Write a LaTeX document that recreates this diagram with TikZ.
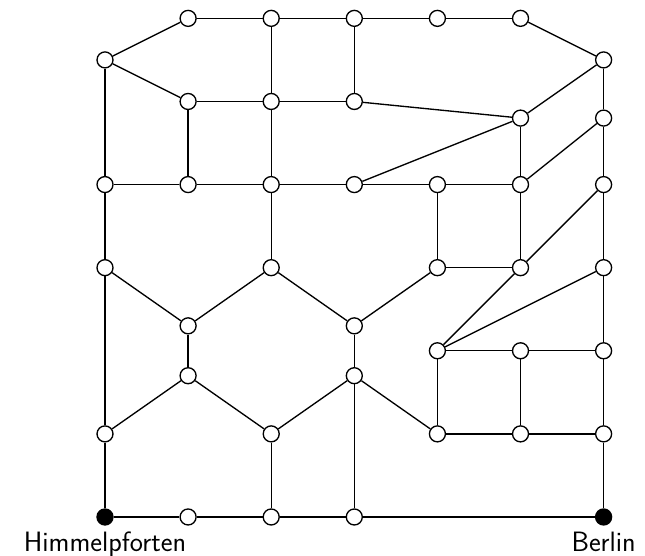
\documentclass[tikz,border=0pt]{standalone}
\begin{document}
\begin{tikzpicture}[x=62.325pt,y=62.325pt,
  v/.style={circle,draw,fill=white,line width=1pt,minimum size=12pt,inner sep=0pt},
  term/.style={v,fill=black},
  edge/.style={line width=1pt},
  lbl/.style={font=\sffamily\fontsize{21}{25}\selectfont,inner sep=0pt,below=4.5pt}]
\useasboundingbox (-1.2635,-0.469) rectangle (6.498,6.221);
% row 6
\node[v] (a16) at (1,6) {};
\node[v] (a26) at (2,6) {};
\node[v] (a36) at (3,6) {};
\node[v] (a46) at (4,6) {};
\node[v] (a56) at (5,6) {};
% row 5.5
\node[v] (a0h) at (0,5.5) {};
\node[v] (a6h) at (6,5.5) {};
% row 5
\node[v] (a15) at (1,5) {};
\node[v] (a25) at (2,5) {};
\node[v] (a35) at (3,5) {};
% row 4.8
\node[v] (a5e) at (5,4.8) {};
\node[v] (a6e) at (6,4.8) {};
% row 4
\node[v] (a04) at (0,4) {};
\node[v] (a14) at (1,4) {};
\node[v] (a24) at (2,4) {};
\node[v] (a34) at (3,4) {};
\node[v] (a44) at (4,4) {};
\node[v] (a54) at (5,4) {};
\node[v] (a64) at (6,4) {};
% row 3
\node[v] (a03) at (0,3) {};
\node[v] (a23) at (2,3) {};
\node[v] (a43) at (4,3) {};
\node[v] (a53) at (5,3) {};
\node[v] (a63) at (6,3) {};
% row 2.3
\node[v] (a1t) at (1,2.3) {};
\node[v] (a3t) at (3,2.3) {};
% row 2
\node[v] (a42) at (4,2) {};
\node[v] (a52) at (5,2) {};
\node[v] (a62) at (6,2) {};
% row 1.7
\node[v] (a1s) at (1,1.7) {};
\node[v] (a3s) at (3,1.7) {};
% row 1
\node[v] (a01) at (0,1) {};
\node[v] (a21) at (2,1) {};
\node[v] (a41) at (4,1) {};
\node[v] (a51) at (5,1) {};
\node[v] (a61) at (6,1) {};
% row 0
\node[term] (a00) at (0,0) {};
\node[v] (a10) at (1,0) {};
\node[v] (a20) at (2,0) {};
\node[v] (a30) at (3,0) {};
\node[term] (a60) at (6,0) {};
\node[lbl] (lh) at (a00.south) {Himmelpforten};
\node[lbl] (lb) at (a60.south) {Berlin};
% edges
\draw[edge] (a16) -- (a26) -- (a36) -- (a46) -- (a56);
\draw[edge] (a0h) -- (a16);
\draw[edge] (a56) -- (a6h);
\draw[edge] (a0h) -- (a15);
\draw[edge] (a0h) -- (a04);
\draw[edge] (a26) -- (a25);
\draw[edge] (a36) -- (a35);
\draw[edge] (a15) -- (a25) -- (a35);
\draw[edge] (a35) -- (a5e);
\draw[edge] (a15) -- (a14);
\draw[edge] (a25) -- (a24);
\draw[edge] (a6h) -- (a5e);
\draw[edge] (a6h) -- (a6e);
\draw[edge] (a5e) -- (a54);
\draw[edge] (a5e) -- (a34);
\draw[edge] (a6e) -- (a54);
\draw[edge] (a6e) -- (a64);
\draw[edge] (a04) -- (a14) -- (a24) -- (a34) -- (a44) -- (a54);
\draw[edge] (a04) -- (a03);
\draw[edge] (a24) -- (a23);
\draw[edge] (a44) -- (a43);
\draw[edge] (a54) -- (a53);
\draw[edge] (a64) -- (a63);
\draw[edge] (a64) -- (a53);
\draw[edge] (a53) -- (a42);
\draw[edge] (a63) -- (a42);
\draw[edge] (a43) -- (a53);
\draw[edge] (a43) -- (a3t);
\draw[edge] (a03) -- (a1t);
\draw[edge] (a23) -- (a1t);
\draw[edge] (a23) -- (a3t);
\draw[edge] (a03) -- (a01);
\draw[edge] (a1t) -- (a1s);
\draw[edge] (a3t) -- (a3s);
\draw[edge] (a1s) -- (a01);
\draw[edge] (a1s) -- (a21);
\draw[edge] (a3s) -- (a21);
\draw[edge] (a3s) -- (a41);
\draw[edge] (a3s) -- (a30);
\draw[edge] (a42) -- (a52) -- (a62);
\draw[edge] (a42) -- (a41);
\draw[edge] (a52) -- (a51);
\draw[edge] (a63) -- (a62);
\draw[edge] (a62) -- (a61);
\draw[edge] (a41) -- (a51) -- (a61);
\draw[edge] (a61) -- (a60);
\draw[edge] (a01) -- (a00);
\draw[edge] (a21) -- (a20);
\draw[edge] (a00) -- (a10) -- (a20) -- (a30) -- (a60);
\end{tikzpicture}
\end{document}
